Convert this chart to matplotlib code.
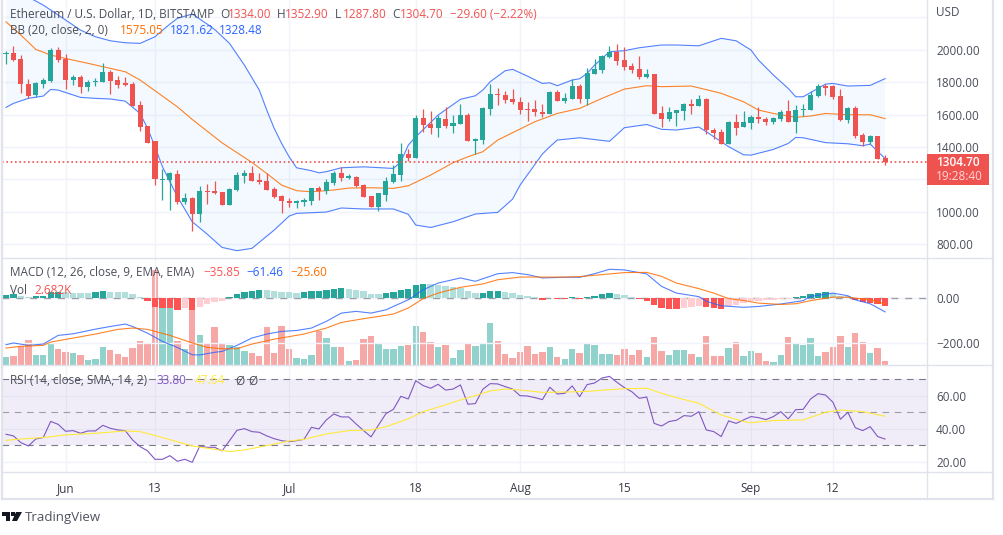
#!/usr/bin/env python3
import numpy as np
import matplotlib
matplotlib.use("Agg")
import matplotlib.pyplot as plt
from matplotlib.lines import Line2D
from matplotlib.patches import Polygon, Rectangle

W, H = 1004, 535
LEFT, AXIS_X, RIGHT = 2.5, 927, 993
UP = "#26a69a"
DOWN = "#ef5350"
GRID = "#f0f3fa"
BORDER = "#e0e3eb"
FONT = "Open Sans"

# daily candles, May 24 to Sep 19
opens = [1971, 1981, 1942, 1788, 1720, 1788, 1807, 1998, 1942, 1813, 1829, 1770, 1801, 1801, 1862, 1813, 1795, 1788, 1657, 1529,
         1437, 1196, 1196, 1233, 1061, 1085, 987, 1128, 1128, 1122, 1042, 1135, 1221, 1239, 1196, 1190, 1141, 1098, 1067, 1054,
         1061, 1067, 1147, 1128, 1178, 1239, 1209, 1215, 1165, 1098, 1030, 1104, 1184, 1227, 1357, 1332, 1579, 1542, 1517, 1572,
         1529, 1542, 1597, 1437, 1443, 1634, 1727, 1720, 1696, 1677, 1634, 1634, 1616, 1603, 1739, 1683, 1696, 1776, 1696, 1850,
         1875, 1955, 1985, 1936, 1899, 1881, 1831, 1850, 1609, 1572, 1609, 1622, 1665, 1652, 1696, 1505, 1492, 1418, 1554, 1523,
         1548, 1585, 1572, 1554, 1572, 1622, 1554, 1628, 1628, 1714, 1776, 1776, 1714, 1566, 1640, 1474, 1431, 1468, 1334.0]
highs = [1992, 2023, 1967, 1817, 1803, 1825, 2008, 2017, 1971, 1846, 1842, 1813, 1827, 1918, 1877, 1836, 1829, 1801, 1683, 1529,
         1437, 1264, 1246, 1258, 1116, 1091, 1159, 1172, 1190, 1122, 1147, 1246, 1258, 1283, 1239, 1239, 1153, 1104, 1085, 1073,
         1085, 1147, 1159, 1202, 1252, 1276, 1233, 1221, 1172, 1098, 1116, 1215, 1289, 1424, 1387, 1597, 1634, 1622, 1597, 1646,
         1597, 1665, 1609, 1455, 1646, 1788, 1764, 1745, 1757, 1708, 1677, 1690, 1665, 1745, 1751, 1733, 1819, 1788, 1887, 1942,
         1967, 2023, 2035, 2017, 1918, 1961, 1881, 1850, 1652, 1646, 1628, 1671, 1696, 1720, 1702, 1517, 1511, 1560, 1603, 1622,
         1597, 1646, 1585, 1585, 1628, 1690, 1659, 1665, 1745, 1788, 1788, 1782, 1757, 1646, 1652, 1486, 1474, 1468, 1352.9]
lows = [1912, 1932, 1735, 1700, 1710, 1764, 1801, 1926, 1757, 1784, 1733, 1747, 1778, 1801, 1727, 1764, 1776, 1652, 1498, 1424,
        1165, 1073, 1011, 1048, 1048, 882, 937, 1048, 1110, 1042, 1042, 1128, 1178, 1190, 1172, 1135, 1085, 993, 1030, 1024,
        1036, 1042, 1073, 1110, 1165, 1190, 1202, 1153, 1091, 1030, 1005, 1067, 1178, 1190, 1313, 1332, 1492, 1480, 1461, 1517,
        1486, 1542, 1437, 1357, 1418, 1597, 1659, 1671, 1665, 1603, 1560, 1591, 1585, 1603, 1683, 1671, 1696, 1671, 1659, 1850,
        1856, 1949, 1905, 1875, 1856, 1819, 1825, 1603, 1523, 1560, 1529, 1566, 1603, 1652, 1480, 1449, 1418, 1418, 1474, 1523,
        1511, 1548, 1535, 1542, 1560, 1554, 1486, 1591, 1628, 1708, 1720, 1696, 1560, 1548, 1455, 1406, 1418, 1326, 1287.8]
closes = [1981, 1936, 1790, 1714, 1795, 1813, 1998, 1936, 1813, 1829, 1772, 1801, 1807, 1862, 1807, 1782, 1782, 1652, 1523, 1424,
          1202, 1202, 1239, 1061, 1085, 987, 1128, 1122, 1116, 1042, 1141, 1227, 1239, 1190, 1184, 1135, 1091, 1067, 1054, 1067,
          1073, 1147, 1128, 1184, 1239, 1209, 1221, 1159, 1091, 1030, 1116, 1190, 1233, 1357, 1332, 1579, 1535, 1517, 1579, 1529,
          1548, 1597, 1437, 1449, 1640, 1727, 1720, 1690, 1677, 1628, 1628, 1616, 1603, 1739, 1683, 1702, 1776, 1696, 1856, 1881,
          1961, 1985, 1930, 1893, 1875, 1831, 1850, 1603, 1572, 1616, 1628, 1665, 1652, 1696, 1505, 1486, 1418, 1554, 1517, 1554,
          1585, 1572, 1554, 1579, 1616, 1554, 1628, 1634, 1720, 1776, 1764, 1708, 1566, 1640, 1468, 1431, 1468, 1326, 1304.7]

upper_days = [0, 2, 4, 5, 8, 10, 12, 14, 16, 18, 20, 22, 23, 25, 27, 28, 30, 32, 34, 35, 36, 37, 38, 39, 41, 42, 43,
              45, 48, 52, 53, 54, 55, 58, 61, 63, 64, 65, 67, 68, 70, 72, 73, 74, 76, 77, 78, 79, 81, 83, 85, 88,
              90, 93, 96, 98, 100, 101, 103, 105, 106, 107, 110, 111, 113, 116, 118]
upper_vals = [2388, 2347, 2300, 2275, 2183, 2121, 2080, 2055, 2043, 2039, 2080, 2158, 2193, 2220, 2158, 2125, 2039, 1905, 1751, 1628, 1515, 1422, 1340, 1272, 1254, 1241, 1248,
              1272, 1278, 1268, 1309, 1412, 1463, 1597, 1694, 1716, 1751, 1803, 1870, 1879, 1837, 1792, 1796, 1778, 1813, 1821, 1854, 1905, 1987, 1994, 2012, 2029,
              2029, 2024, 2070, 2055, 1998, 1936, 1844, 1761, 1710, 1710, 1788, 1792, 1776, 1780, 1821.62]
mid_days = [0, 2, 4, 6, 8, 11, 14, 16, 18, 21, 23, 25, 29, 33, 35, 37, 39, 41, 43, 44, 46, 49, 52, 54, 57, 60, 62, 64, 66, 69,
            71, 74, 77, 80, 83, 86, 88, 92, 96, 99, 101, 103, 106, 108, 110, 113, 116, 118]
mid_vals = [2172, 2090, 2002, 1967, 1946, 1916, 1885, 1864, 1813, 1714, 1648, 1570, 1426, 1305, 1237, 1165, 1131, 1124, 1131, 1135, 1147, 1149, 1145, 1161, 1227, 1303, 1340, 1371, 1443, 1511,
            1556, 1607, 1638, 1700, 1757, 1778, 1772, 1776, 1731, 1679, 1628, 1607, 1583, 1591, 1607, 1599, 1599, 1575.05]
lower_days = [0, 1, 3, 5, 6, 7, 10, 12, 14, 16, 18, 19, 20, 21, 23, 25, 27, 29, 31, 33, 36, 38, 39, 43, 45, 48, 52, 54, 55, 57, 60,
              63, 66, 68, 69, 72, 73, 74, 77, 81, 83, 86, 88, 90, 93, 94, 97, 99, 100, 103, 105, 106, 107, 110, 113, 115, 116, 118]
lower_vals = [1644, 1669, 1700, 1714, 1755, 1751, 1706, 1700, 1696, 1683, 1607, 1515, 1402, 1278, 1094, 939, 863, 781, 761, 775, 888, 974, 991, 999, 1024, 1018, 1018, 985, 919, 904, 939,
              987, 997, 1079, 1165, 1357, 1402, 1443, 1457, 1435, 1519, 1539, 1509, 1505, 1523, 1494, 1402, 1352, 1350, 1385, 1422, 1459, 1457, 1427, 1420, 1408, 1418, 1328.48]

# volume in thousands
volumes = [6.1, 6.8, 14.2, 18.5, 7.6, 7.6, 15.6, 12.0, 9.8, 9.0, 7.6, 3.9, 4.6, 13.4, 11.2, 8.3, 6.1, 12.7, 17.8, 16.3,
           69.8, 42.0, 42.0, 17.8, 12.0, 40.5, 22.2, 16.3, 28.1, 15.6, 14.9, 13.4, 10.5, 9.0, 6.8, 28.1, 9.0, 28.8, 12.0, 5.4,
           4.6, 7.6, 25.1, 20.0, 13.4, 13.4, 3.2, 3.9, 19.3, 21.5, 16.3, 12.0, 12.0, 14.2, 14.9, 28.8, 24.4, 17.1, 13.4, 14.9,
           5.4, 11.2, 16.3, 14.2, 16.3, 31.0, 17.8, 8.3, 5.4, 9.8, 14.2, 8.3, 9.8, 13.4, 6.1, 4.6, 12.0, 9.0, 16.3, 14.9,
           8.3, 8.3, 7.6, 12.0, 7.6, 11.2, 6.1, 20.7, 10.5, 7.6, 11.2, 11.2, 8.3, 6.1, 21.5, 6.8, 6.8, 12.7, 17.1, 6.8,
           10.5, 9.0, 3.2, 2.4, 7.6, 20.7, 15.6, 14.9, 20.0, 6.8, 9.8, 13.4, 21.5, 13.4, 23.7, 17.1, 9.0, 12.7, 2.682]

macd_hist = [14.2, 20.2, 11.2, 5.2, 9.7, 11.2, 26.2, 29.2, 26.2, 24.7, 23.2, 21.7, 29.2, 30.7, 29.2, 27.7, 26.2, 20.2, 5.2, -11.2,
             -38.2, -44.2, -45.7, -53.2, -44.2, -53.2, -39.7, -24.7, -15.7, -11.2, 5.2, 20.2, 26.2, 33.7, 36.7, 35.2, 32.2, 29.2, 27.7, 24.7,
             26.2, 32.2, 33.7, 36.7, 41.2, 45.7, 41.2, 36.7, 32.2, 18.7, 17.2, 23.2, 27.7, 36.7, 41.2, 59.2, 63.7, 62.2, 60.7, 54.7,
             50.2, 45.7, 32.2, 23.2, 24.7, 32.2, 33.7, 27.7, 23.2, 14.2, 9.7, 5.2, -6.7, -0.7, -2.2, -3.7, 5.2, -2.2, 5.2, 9.7,
             18.7, 23.2, 18.7, 14.2, 5.2, -2.2, -12.7, -30.7, -44.2, -48.7, -50.2, -44.2, -39.7, -35.2, -39.7, -44.2, -48.7, -35.2, -30.7, -21.7,
             -12.7, -11.2, -9.7, -8.2, -5.2, -2.2, 5.2, 9.7, 18.7, 23.2, 27.7, 21.7, 11.2, 8.2, -6.7, -17.2, -21.7, -24.7, -35.85]
macd_days = [0, 1, 3, 5, 7, 9, 12, 14, 16, 17, 18, 19, 21, 23, 25, 26, 28, 29, 31, 33, 35, 37, 39, 41, 43,
             45, 47, 49, 51, 54, 56, 58, 61, 63, 66, 68, 70, 72, 75, 77, 79, 81, 83, 86, 88,
             90, 93, 94, 96, 99, 101, 104, 107, 108, 111, 113, 114, 116, 118]
macd_vals = [-209, -201, -212, -206, -167, -160, -139, -127, -116, -127, -142, -157, -194, -221, -254, -255, -243, -239, -212, -179, -161, -149, -145, -134, -104,
             -67, -59, -67, -52, -7, 38, 68, 91, 76, 110, 115, 106, 91, 94, 94, 110, 130, 127, 109, 53,
             23, 7, -14, -34, -41, -37, -26, -11, 8, 23, 11, -7, -25, -61.46]
signal_days = [0, 2, 5, 6, 9, 12, 15, 17, 19, 22, 25, 27, 29, 31, 33, 36, 40, 43,
               45, 48, 50, 52, 54, 56, 58, 61, 64, 66, 69, 71, 75, 77, 80, 83, 86, 88,
               90, 93, 95, 97, 99, 101, 104, 106, 108, 111, 113, 116, 118]
signal_vals = [-224, -216, -212, -197, -179, -161, -140, -134, -140, -167, -201, -221, -227, -227, -206, -184, -161, -134,
               -109, -92, -82, -71, -44, -2, 23, 49, 64, 83, 95, 95, 95, 97, 106, 115, 116, 98,
               68, 43, 23, -2, -10, -22, -28, -25, -11, 5, 4, -7, -25.6]

rsi = [36.7, 35.7, 31.6, 29.6, 33.8, 34.7, 44.5, 42.7, 38.5, 38.9, 37.3, 38.7, 38.7, 42.1, 40.3, 39.3, 38.9, 33.2, 29.2, 26.6,
       21.5, 21.5, 23.7, 20.3, 21.5, 19.7, 29.4, 28.8, 28.8, 26.6, 32.8, 39.1, 40.1, 38.3, 37.9, 35.7, 34.0, 32.8, 32.2, 32.8,
       33.6, 40.9, 39.9, 45.4, 49.0, 47.2, 47.2, 42.9, 38.9, 35.1, 42.3, 49.2, 51.8, 59.7, 58.1, 69.2, 66.2, 64.6, 67.0, 63.5,
       64.1, 66.6, 54.9, 55.3, 64.0, 67.4, 67.2, 65.6, 64.1, 60.1, 59.9, 58.9, 57.7, 65.2, 61.1, 61.5, 66.0, 59.5, 66.8, 67.8,
       70.8, 71.8, 68.2, 65.0, 62.5, 58.5, 59.3, 43.3, 41.7, 44.4, 45.2, 48.0, 47.6, 50.4, 39.3, 38.3, 35.3, 44.8, 43.3, 45.4,
       47.4, 46.8, 45.6, 47.4, 50.4, 46.0, 51.6, 51.8, 58.1, 61.3, 60.5, 56.1, 45.8, 50.0, 40.7, 38.9, 41.3, 35.3, 33.8]
rsi_ma_days = [0, 2, 5, 8, 12, 16, 18, 21, 25, 30, 32, 35, 38, 40, 43, 46, 49, 51, 54, 56, 59, 61, 63, 65, 67, 69, 72, 75, 78,
               81, 83, 86, 88, 90, 93, 96, 99, 100, 103, 107, 110, 112, 115, 118]
rsi_ma_vals = [33.0, 33.8, 34.7, 36.3, 37.3, 38.7, 38.3, 34.7, 29.6, 26.2, 27.2, 29.8, 32.6, 33.6, 36.9, 38.9, 39.3, 41.3, 46.0, 50.4, 54.5, 57.5, 60.1, 63.0, 64.1, 63.5, 62.1, 62.3, 62.7,
               63.7, 64.3, 64.6, 61.5, 58.9, 55.5, 48.4, 44.4, 43.7, 45.0, 45.4, 50.0, 51.4, 50.4, 47.64]

date_ticks = [8, 20, 38, 55, 69, 83, 100, 111]
date_labels = ["Jun", "13", "Jul", "18", "Aug", "15", "Sep", "12"]
price_ticks = [2200, 2000, 1800, 1600, 1400, 1200, 1000, 800]
price_labels = ["", "2000.00", "1800.00", "1600.00", "1400.00", "", "1000.00", "800.00"]
macd_ticks = [0, -200]
macd_labels = ["0.00", "\u2212200.00"]
rsi_ticks = [60, 40, 20]
rsi_labels = ["60.00", "40.00", "20.00"]


def panel(top, bottom, ylim, z):
    ax = fig.add_axes([LEFT / W, 1 - bottom / H, (AXIS_X - LEFT) / W, (bottom - top) / H], zorder=z)
    ax.patch.set_visible(False)
    ax.set_xlim((LEFT - 6) / 7.45, (AXIS_X - 6) / 7.45)
    ax.set_ylim(*ylim)
    for s in ax.spines.values():
        s.set_visible(False)
    ax.yaxis.tick_right()
    ax.set_xticks(date_ticks)
    ax.tick_params(length=0, pad=6.5, labelsize=8.5, labelcolor="#4a4e59")
    ax.tick_params(axis="x", labelbottom=False)
    ax.grid(True, color=GRID, lw=1)
    ax.set_axisbelow(True)
    return ax


def label(x, y, s, color="#4a4e59", size=8.5, **kw):
    fig.text(x / W, 1 - y / H, s, color=color, fontsize=size, va="center", zorder=10, **kw)


def border(x0, y0, x1, y1, lw=1.0):
    fig.add_artist(Line2D([x0 / W, x1 / W], [1 - y0 / H, 1 - y1 / H], color=BORDER, lw=lw, zorder=5))


plt.rcParams["font.family"] = [FONT, "DejaVu Sans"]
fig = plt.figure(figsize=(W / 100, H / 100), dpi=100, facecolor="white")

days = np.arange(len(closes))
opens = np.array(opens, float)
closes = np.array(closes, float)
colors = [UP if c >= o else DOWN for o, c in zip(opens, closes)]

# price panel
ax_p = panel(0, 258, (715.8, 2306.4), 1)
ax_p.set_yticks(price_ticks, price_labels)
ax_p.fill(upper_days + lower_days[::-1], upper_vals + lower_vals[::-1], color="#2196f3", alpha=0.05, lw=0, zorder=1)
ax_p.plot(upper_days, upper_vals, color="#2962ff", lw=0.8, alpha=0.8, zorder=2)
ax_p.plot(lower_days, lower_vals, color="#2962ff", lw=0.8, alpha=0.8, zorder=2)
ax_p.plot(mid_days, mid_vals, color="#ff6d00", lw=0.8, alpha=0.85, zorder=2)
ax_p.vlines(days, lows, highs, colors=colors, lw=0.9, zorder=3)
ax_p.bar(days, np.maximum(np.abs(closes - opens), 4), bottom=np.minimum(opens, closes), width=0.68, color=colors, zorder=3)
ax_p.axhline(closes[-1], color=DOWN, lw=1.2, ls=(0, (1, 1.6)), zorder=4)

# macd and volume panel
ax_v = panel(258, 365, (0, 78.3), 2)
ax_v.grid(False)
ax_v.set_yticks([])
ax_v.set_xticks([])
ax_v.bar(days, volumes, width=0.85, color=colors, alpha=0.5)
ax_m = panel(258, 365, (-300, 180.6), 3)
ax_m.set_yticks(macd_ticks, macd_labels)
ax_m.axhline(0, color="#787b86", lw=1, ls=(0, (5, 5)), alpha=0.7, zorder=1)
hist_colors = []
for i, v in enumerate(macd_hist):
    prev = macd_hist[i - 1] if i else v
    if v >= 0:
        hist_colors.append("#26a69a" if v >= prev else "#b2dfdb")
    else:
        hist_colors.append("#ff5252" if v <= prev else "#ffcdd2")
ax_m.bar(days, macd_hist, width=0.85, color=hist_colors, zorder=2)
ax_m.plot(macd_days, macd_vals, color="#2962ff", lw=0.8, alpha=0.8, zorder=3)
ax_m.plot(signal_days, signal_vals, color="#ff6d00", lw=0.8, alpha=0.85, zorder=3)

# rsi panel
ax_r = panel(365, 472, (13.8, 78.7), 1)
ax_r.set_yticks(rsi_ticks, rsi_labels)
ax_r.axhspan(30, 70, color="#7e57c2", alpha=0.1, lw=0, zorder=1)
for lvl, a in ((70, 1), (50, 0.7), (30, 1)):
    ax_r.axhline(lvl, color="#787b86", lw=0.8, ls=(0, (6, 5)), alpha=a, zorder=2)
ax_r.plot(days, rsi, color="#7e57c2", lw=0.8, zorder=3)
ax_r.plot(rsi_ma_days, rsi_ma_vals, color="#ffe93b", lw=0.8, zorder=3)
ax_r.set_xticks(date_ticks, date_labels)
ax_r.tick_params(axis="x", labelbottom=True, pad=7, labelcolor="#363a45")

# frame
border(LEFT, 0, LEFT, 499, 1.6)
border(RIGHT, 0, RIGHT, 499, 1.6)
border(AXIS_X, 0, AXIS_X, 499)
border(LEFT, 258, RIGHT, 258)
border(LEFT, 365, RIGHT, 365)
border(LEFT, 472, RIGHT, 472)
border(LEFT, 499, RIGHT, 499, 1.6)

# legends
label(10, 14, "Ethereum / U.S. Dollar, 1D, BITSTAMP")
for x, name, val in ((220, "O", "1334.00"), (277, "H", "1352.90"), (335, "L", "1287.80"), (392, "C", "1304.70")):
    label(x, 14, name)
    label(x + 8, 14, val, DOWN)
label(450, 14, "\u221229.60 (\u22122.22%)", DOWN)
label(10, 31, "BB (20, close, 2, 0)")
label(120, 31, "1575.05", "#ff6d00")
label(170, 31, "1821.62", "#2962ff")
label(219, 31, "1328.48", "#2962ff")
label(10, 273, "MACD (12, 26, close, 9, EMA, EMA)")
label(203, 273, "\u221235.85", "#ff5252")
label(246, 273, "\u221261.46", "#2962ff")
label(290, 273, "\u221225.60", "#ff6d00")
label(10, 290, "Vol")
label(34, 290, "2.682K", DOWN)
label(10, 381, "RSI (14, close, SMA, 14, 2)")
label(157, 381, "33.80", "#7e57c2")
label(195, 381, "47.64", "#ffe93b")
label(235, 381, "\u00d8")
label(248, 381, "\u00d8")
label(936, 12, "USD")

# last price tag
fig.add_artist(Rectangle((AXIS_X / W, 1 - 185 / H), 62 / W, 31 / H, color=DOWN, lw=0, zorder=8))
label(936, 163, "1304.70", "white", weight="semibold")
label(936, 177, "19:28:40", "#fdd8d7")

# logo
fig.add_artist(Polygon([(2 / W, 1 - 512 / H), (10 / W, 1 - 512 / H), (10 / W, 1 - 521 / H), (6 / W, 1 - 521 / H),
                        (6 / W, 1 - 515.5 / H), (2 / W, 1 - 515.5 / H)], color="#131722", lw=0))
fig.add_artist(Polygon([(16 / W, 1 - 512 / H), (22 / W, 1 - 512 / H), (17 / W, 1 - 521 / H), (12 / W, 1 - 521 / H)], color="#131722", lw=0))
fig.add_artist(Rectangle((11 / W, 1 - 515.5 / H), 3.5 / W, 3.5 / H, color="#131722", lw=0))
label(25, 517, "TradingView", "#50535e", 9.5)

fig.savefig("out.png", dpi=100, facecolor="white")
